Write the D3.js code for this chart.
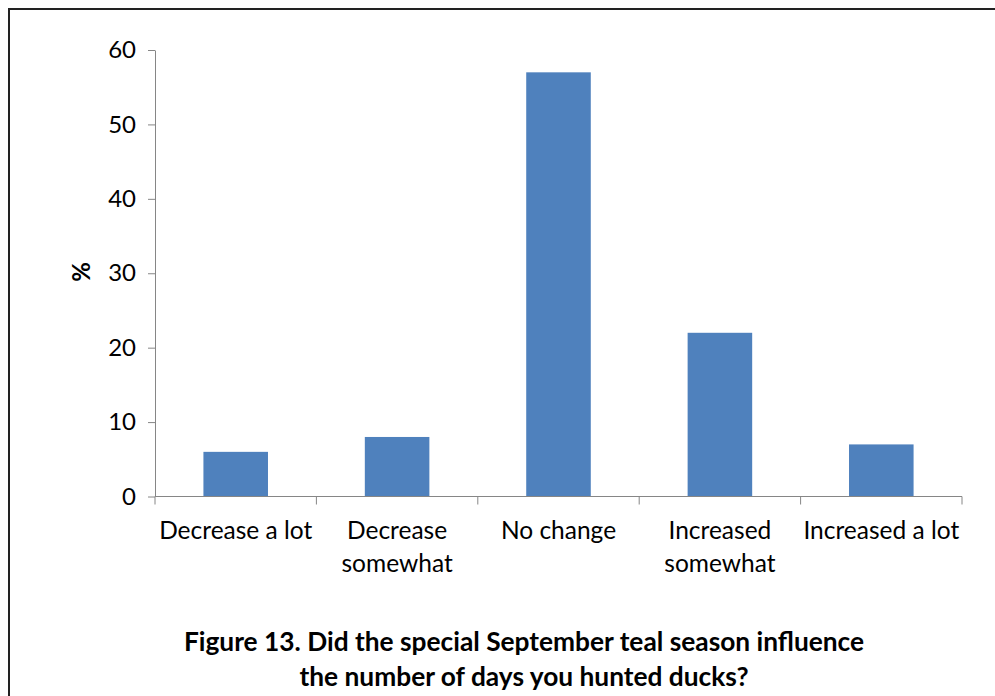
<!DOCTYPE html>
<html><head><meta charset="utf-8">
<script src="https://cdn.jsdelivr.net/npm/d3@7"></script>
<style>body{margin:0;background:#fff}svg{display:block}text{font-family:Lato,"Open Sans",sans-serif}</style>
</head><body>
<svg id="c" width="995" height="696"></svg>
<script>
const categories = [["Decrease a lot"],["Decrease","somewhat"],["No change"],["Increased","somewhat"],["Increased a lot"]];
const values = [6, 8, 57, 22, 7];
const yTicks = [0, 10, 20, 30, 40, 50, 60];
const titleLines = ["Figure 13. Did the special September teal season influence","the number of days you hunted ducks?"];

const svg = d3.select("#c");
svg.append("rect").attr("x",9).attr("y",9).attr("width",1000).attr("height",700)
  .attr("fill","none").attr("stroke","#222").attr("stroke-width",2);

const pLeft=155, pRight=962, pTop=50, pBottom=496.5;
const keys = categories.map((d,i)=>i);
const x = d3.scaleBand().domain(keys).range([pLeft,pRight]).paddingInner(0.6).paddingOuter(0.3);
const y = d3.scaleLinear().domain([0,60]).range([pBottom,pTop]);

const yAxis = svg.append("g").attr("transform",`translate(${pLeft},0)`)
  .call(d3.axisLeft(y).tickValues(yTicks).tickSize(7).tickSizeOuter(0).tickPadding(12));
yAxis.select(".domain").attr("stroke","#868686");
yAxis.selectAll(".tick line").attr("stroke","#868686");
yAxis.selectAll(".tick text").attr("font-size",24).attr("fill","#000").attr("font-family","Lato,sans-serif");

svg.selectAll("rect.bar").data(values).join("rect").attr("class","bar")
  .attr("x",(d,i)=>x(i)).attr("width",x.bandwidth())
  .attr("y",d=>y(d)).attr("height",d=>y(0)-y(d)).attr("fill","#4F81BD");

const step = x.step();
const g = svg.append("g");
g.append("line").attr("x1",pLeft).attr("x2",pRight).attr("y1",pBottom).attr("y2",pBottom).attr("stroke","#868686");
d3.range(6).forEach(i=>{
  const xx = pLeft + i*step;
  g.append("line").attr("x1",xx).attr("x2",xx).attr("y1",pBottom).attr("y2",pBottom+8).attr("stroke","#868686");
});
categories.forEach((lines,i)=>{
  const cx = x(i)+x.bandwidth()/2;
  lines.forEach((l,j)=>{
    g.append("text").attr("x",cx).attr("y",539+j*33).attr("text-anchor","middle")
      .attr("font-size",24.5).attr("fill","#000").text(l);
  });
});

svg.append("text").attr("transform","translate(90,272) rotate(-90)").attr("text-anchor","middle")
  .attr("font-size",24).attr("font-weight","bold").text("%");

titleLines.forEach((t,j)=>{
  svg.append("text").attr("x",524).attr("y",651+j*35).attr("text-anchor","middle")
    .attr("font-size",26.3).attr("font-weight","bold").text(t);
});
</script>
</body></html>
